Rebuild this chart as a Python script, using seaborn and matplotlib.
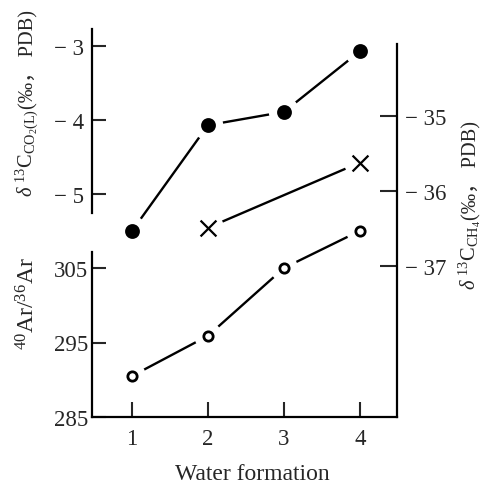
import matplotlib
matplotlib.use("Agg")
import matplotlib.pyplot as plt
import seaborn as sns
import pandas as pd

# ---- data ----
formation = [1, 2, 3, 4]
co2_delta = [-5.5, -4.07, -3.89, -3.07]
ch4_x = [2, 4]
ch4_delta = [-36.49, -35.62]
ar_ratio = [290.5, 295.9, 305.0, 310.0]

co2_ticks = [-5, -4, -3]
ch4_ticks = [-37, -36, -35]
ar_ticks = [285, 295, 305]
x_ticks = [1, 2, 3, 4]

sns.set_style("white")
FAM = ['Liberation Serif', 'Noto Sans CJK SC', 'DejaVu Sans']
plt.rcParams['font.family'] = FAM
plt.rcParams['mathtext.fontset'] = 'custom'
plt.rcParams['mathtext.rm'] = 'Liberation Serif'
plt.rcParams['mathtext.it'] = 'Liberation Serif:italic'
plt.rcParams['mathtext.bf'] = 'Liberation Serif:bold'

W = H = 485
fig = plt.figure(figsize=(4.85, 4.85), dpi=100)
L, R, T, B = 92, 397, 30, 418
ax = fig.add_axes([L / W, 1 - B / H, (R - L) / W, (B - T) / H])
ax_co2 = ax.twinx()
ax_ch4 = ax.twinx()

ax.set_xlim(0.474, 4.487)
ax.set_ylim(285, 285 + (B - T) / 7.45)
ax_co2.set_ylim(-3 - (B - 47) / 74.0, -3 + (47 - T) / 74.0)
ax_ch4.set_ylim(-35 - (B - 117) / 75.0, -35 + (117 - T) / 75.0)

lw = 1.7
def draw(axis, x, y, marker, face, size, msize_halo):
    df = pd.DataFrame({'x': x, 'y': y})
    sns.lineplot(data=df, x='x', y='y', ax=axis, color='black', lw=lw, zorder=2)
    sns.scatterplot(data=df, x='x', y='y', ax=axis, marker='o', s=msize_halo,
                    color='white', edgecolor='none', linewidth=0, zorder=3)
    if marker == 'x':
        sns.scatterplot(data=df, x='x', y='y', ax=axis, marker='x', s=size,
                        color='black', linewidth=1.6, zorder=4)
    else:
        sns.scatterplot(data=df, x='x', y='y', ax=axis, marker=marker, s=size,
                        color=face, edgecolor='black', linewidth=2.0, zorder=4)

draw(ax_co2, formation, co2_delta, 'o', 'black', 75, 480)
draw(ax_ch4, ch4_x, ch4_delta, 'x', 'black', 130, 520)
draw(ax, formation, ar_ratio, 'o', 'white', 45, 400)

for a in (ax, ax_co2, ax_ch4):
    a.set_xlabel('')
    a.set_ylabel('')
    for s in a.spines.values():
        s.set_visible(False)
        s.set_linewidth(1.6)
        s.set_color('black')
    a.grid(False)
    a.patch.set_visible(False)

TS = 16.5
# main (Ar) axis
ax.spines['left'].set_visible(True)
ax.spines['bottom'].set_visible(True)
ax.spines['left'].set_bounds(285, 307.1)
ax.set_xticks(x_ticks)
ax.set_xticklabels([str(v) for v in x_ticks])
ax.set_yticks(ar_ticks)
ax.set_yticklabels([str(v) for v in ar_ticks])
ax.tick_params(axis='x', direction='in', length=11, width=1.5, pad=8, labelsize=TS, bottom=True)
ax.tick_params(axis='y', direction='in', length=10, width=1.5, pad=3, labelsize=TS, left=True, right=False)

# CO2 axis on left
ax_co2.spines['left'].set_visible(True)
ax_co2.spines['left'].set_bounds(-5.25, -3 + (47 - T) / 74.0)
ax_co2.yaxis.set_ticks_position('left')
ax_co2.yaxis.set_label_position('left')
ax_co2.set_yticks(co2_ticks)
ax_co2.set_yticklabels(['\u2212 %d' % abs(v) for v in co2_ticks])
ax_co2.tick_params(axis='y', direction='in', length=10, width=1.5, pad=6, labelsize=TS, left=True, right=False)

# CH4 axis on right
ax_ch4.spines['right'].set_visible(True)
ax_ch4.spines['right'].set_bounds(-35 - (B - 117) / 75.0, -35 + (117 - 45) / 75.0)
ax_ch4.set_yticks(ch4_ticks)
ax_ch4.set_yticklabels(['\u2212 %d' % abs(v) for v in ch4_ticks])
ax_ch4.tick_params(axis='y', direction='in', length=12, width=1.5, pad=6, labelsize=TS, right=True, left=False)

# labels
fig.text(252 / W, 1 - 480 / H, 'Water formation', ha='center', va='baseline', fontsize=17)

renderer = fig.canvas.get_renderer()
def vlabel(x_px, y_bottom_px, parts, size):
    y = y_bottom_px
    for txt in parts:
        t = fig.text(x_px / W, 1 - y / H, txt, rotation=90, rotation_mode='anchor',
                     ha='left', va='baseline', fontsize=size, family=FAM)
        bb = t.get_window_extent(renderer)
        y -= bb.height

vlabel(33, 197, [r'$\delta\ ^{13}\mathrm{C}_{\mathrm{CO_{2}(L)}}$', '(‰， PDB)'], 14.7)
vlabel(35, 350, [r'$^{40}\mathrm{Ar}/^{36}\mathrm{Ar}$'], 17)
vlabel(476, 290, [r'$\delta\ ^{13}\mathrm{C}_{\mathrm{CH_{4}}}$', '(‰， PDB)'], 14.7)

fig.savefig('out.png', dpi=100)
